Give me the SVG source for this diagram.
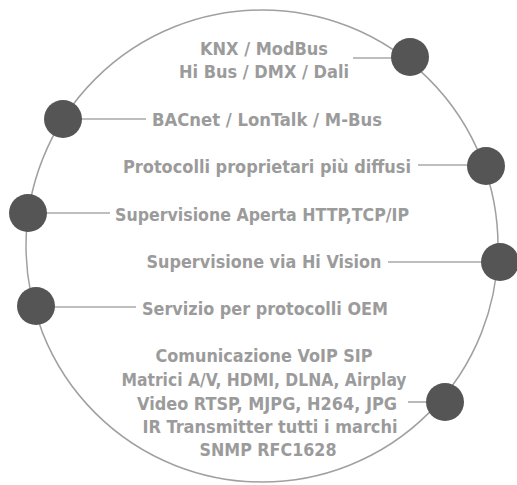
<svg xmlns="http://www.w3.org/2000/svg" width="517" height="485" viewBox="0 0 517 485">
<style>
.t{font-family:"Liberation Sans Narrow","DejaVu Sans Condensed","Liberation Sans",sans-serif;font-weight:bold;font-size:18.5px;fill:#9b9b9b;text-anchor:middle}
.ln{stroke:#a8a8a8;stroke-width:1.6;fill:none}
.dot{fill:#555555}
</style>
<rect width="517" height="485" fill="#ffffff"/>
<g id="ring"><ellipse cx="262" cy="246" rx="236" ry="236" fill="none" stroke="#a0a0a0" stroke-width="1.5"/></g>
<g id="connectors">
<line class="ln" x1="353" y1="58" x2="400" y2="58"/>
<line class="ln" x1="70" y1="119" x2="146" y2="119"/>
<line class="ln" x1="418" y1="165" x2="475" y2="165"/>
<line class="ln" x1="35" y1="213" x2="110" y2="213"/>
<line class="ln" x1="388" y1="262" x2="490" y2="262"/>
<line class="ln" x1="45" y1="307" x2="136" y2="307"/>
<line class="ln" x1="408" y1="402" x2="435" y2="402"/>
</g>
<g id="n1"><circle class="dot" cx="410" cy="57" r="19"/><text class="t" x="264" y="55" textLength="128" lengthAdjust="spacingAndGlyphs">KNX / ModBus</text><text class="t" x="264" y="78" textLength="170" lengthAdjust="spacingAndGlyphs">Hi Bus / DMX / Dali</text></g>
<g id="n2"><circle class="dot" cx="63" cy="119" r="19"/><text class="t" x="267" y="126" textLength="230" lengthAdjust="spacingAndGlyphs">BACnet / LonTalk / M-Bus</text></g>
<g id="n3"><circle class="dot" cx="486" cy="166" r="19"/><text class="t" x="267" y="173" textLength="288" lengthAdjust="spacingAndGlyphs">Protocolli proprietari più diffusi</text></g>
<g id="n4"><circle class="dot" cx="28" cy="213" r="19"/><text class="t" x="262" y="221" textLength="294" lengthAdjust="spacingAndGlyphs">Supervisione Aperta HTTP,TCP/IP</text></g>
<g id="n5"><circle class="dot" cx="500" cy="262" r="19"/><text class="t" x="264" y="268" textLength="235" lengthAdjust="spacingAndGlyphs">Supervisione via Hi Vision</text></g>
<g id="n6"><circle class="dot" cx="36" cy="306" r="19"/><text class="t" x="265" y="315" textLength="246" lengthAdjust="spacingAndGlyphs">Servizio per protocolli OEM</text></g>
<g id="n7"><circle class="dot" cx="445" cy="402" r="19"/>
<text class="t" x="264" y="362" textLength="217" lengthAdjust="spacingAndGlyphs">Comunicazione VoIP SIP</text>
<text class="t" x="264" y="386" textLength="285" lengthAdjust="spacingAndGlyphs">Matrici A/V, HDMI, DLNA, Airplay</text>
<text class="t" x="267" y="410" textLength="260" lengthAdjust="spacingAndGlyphs">Video RTSP, MJPG, H264, JPG</text>
<text class="t" x="270" y="433" textLength="255" lengthAdjust="spacingAndGlyphs">IR Transmitter tutti i marchi</text>
<text class="t" x="268" y="456" textLength="137" lengthAdjust="spacingAndGlyphs">SNMP RFC1628</text>
</g>
</svg>
